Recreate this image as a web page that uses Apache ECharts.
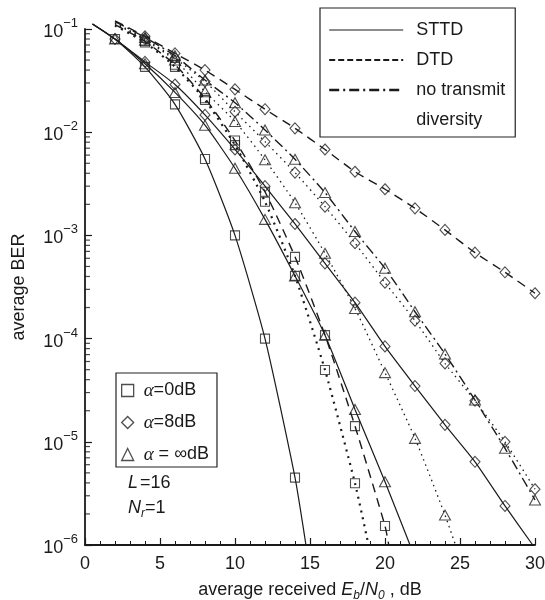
<!DOCTYPE html>
<html><head><meta charset="utf-8">
<script src="https://cdn.jsdelivr.net/npm/echarts@6/dist/echarts.min.js"></script>
<style>html,body{margin:0;padding:0;background:#fff}#c{width:545px;height:600px}</style>
</head><body><div id="c"></div>
<script>
// ---- axes ----
const xTickValues = [0, 5, 10, 15, 20, 25, 30];
const yDecadeExps = [-6, -5, -4, -3, -2, -1];
const yMinorMultipliers = [2, 3, 4, 5, 6, 7, 8, 9];

// ---- alpha = 0 dB (squares) ----
const sttd0LineX = [0.5, 2, 4, 6, 8, 10, 12, 14, 14.73];
const sttd0LineY = [0.112, 0.08, 0.043, 0.0186, 0.0055, 1.0e-3, 1.0e-4, 4.5e-6, 1e-6];
const sttd0MarkX = [2, 4, 6, 8, 10, 12, 14];
const sttd0MarkY = [0.08, 0.043, 0.0186, 0.0055, 1.0e-3, 1.0e-4, 4.5e-6];

const dtd0LineX = [2, 4, 6, 8, 10, 12, 14, 16, 18, 20, 20.25];
const dtd0LineY = [0.11, 0.076, 0.045, 0.0213, 0.0083, 0.00265, 6.2e-4, 1.08e-4, 1.42e-5, 1.53e-6, 1e-6];
const dtd0MarkX = [4, 6, 8, 10, 12, 14, 16, 18, 20];
const dtd0MarkY = [0.076, 0.045, 0.0213, 0.0083, 0.00265, 6.2e-4, 1.08e-4, 1.42e-5, 1.53e-6];

const notd0LineX = [2, 4, 6, 8, 10, 12, 14, 16, 18, 18.9];
const notd0LineY = [0.108, 0.074, 0.043, 0.0205, 0.0075, 0.00212, 4.05e-4, 4.96e-5, 3.96e-6, 1e-6];
const notd0MarkX = [4, 6, 8, 10, 12, 14, 16, 18];
const notd0MarkY = [0.074, 0.043, 0.0205, 0.0075, 0.00212, 4.05e-4, 4.96e-5, 3.96e-6];

// ---- alpha = 8 dB (diamonds) ----
const sttd8LineX = [0.5, 2, 4, 6, 8, 10, 12, 14, 16, 18, 20, 22, 24, 26, 28, 29.85];
const sttd8LineY = [0.112, 0.08, 0.048, 0.029, 0.0147, 0.0068, 0.0030, 1.29e-3, 5.36e-4, 2.23e-4, 8.4e-5, 3.47e-5, 1.46e-5, 6.4e-6, 2.39e-6, 1e-6];
const sttd8MarkX = [2, 4, 6, 8, 10, 12, 14, 16, 18, 20, 22, 24, 26, 28];
const sttd8MarkY = [0.08, 0.048, 0.029, 0.0147, 0.0068, 0.0030, 1.29e-3, 5.36e-4, 2.23e-4, 8.4e-5, 3.47e-5, 1.46e-5, 6.4e-6, 2.39e-6];

const dot8LineX = [2, 4, 6, 8, 10, 12, 14, 16, 18, 20, 22, 24, 26, 28, 30];
const dot8LineY = [0.115, 0.08, 0.052, 0.031, 0.0158, 0.0081, 0.00406, 0.0019, 8.4e-4, 3.48e-4, 1.49e-4, 5.75e-5, 2.5e-5, 1.0e-5, 3.47e-6];
const dot8MarkX = [4, 6, 8, 10, 12, 14, 16, 18, 20, 22, 24, 26, 28, 30];
const dot8MarkY = [0.08, 0.052, 0.031, 0.0158, 0.0081, 0.00406, 0.0019, 8.4e-4, 3.48e-4, 1.49e-4, 5.75e-5, 2.5e-5, 1.0e-5, 3.47e-6];

const dash8LineX = [2, 4, 6, 8, 10, 12, 14, 16, 18, 20, 22, 24, 26, 28, 30];
const dash8LineY = [0.12, 0.085, 0.058, 0.040, 0.026, 0.0167, 0.0109, 0.0068, 0.00414, 0.0028, 0.00183, 0.00113, 6.8e-4, 4.39e-4, 2.75e-4];
const dash8MarkX = [4, 6, 8, 10, 12, 14, 16, 18, 20, 22, 24, 26, 28, 30];
const dash8MarkY = [0.085, 0.058, 0.040, 0.026, 0.0167, 0.0109, 0.0068, 0.00414, 0.0028, 0.00183, 0.00113, 6.8e-4, 4.39e-4, 2.75e-4];

// ---- alpha = infinity dB (triangles) ----
const sttdInfLineX = [0.5, 2, 4, 6, 8, 10, 12, 14, 16, 18, 20, 21.67];
const sttdInfLineY = [0.112, 0.08, 0.046, 0.0243, 0.0117, 0.00447, 1.43e-3, 4.05e-4, 1.08e-4, 2.06e-5, 4.1e-6, 1e-6];
const sttdInfMarkX = [2, 4, 6, 8, 10, 12, 14, 16, 18, 20];
const sttdInfMarkY = [0.08, 0.046, 0.0243, 0.0117, 0.00447, 1.43e-3, 4.05e-4, 1.08e-4, 2.06e-5, 4.1e-6];

const dotInfLineX = [2, 4, 6, 8, 10, 12, 14, 16, 18, 20, 22, 24, 24.7];
const dotInfLineY = [0.113, 0.078, 0.05, 0.0247, 0.0127, 0.0054, 0.00207, 6.7e-4, 1.96e-4, 4.68e-5, 1.08e-5, 1.95e-6, 1e-6];
const dotInfMarkX = [4, 6, 8, 10, 12, 14, 16, 18, 20, 22, 24];
const dotInfMarkY = [0.078, 0.05, 0.0247, 0.0127, 0.0054, 0.00207, 6.7e-4, 1.96e-4, 4.68e-5, 1.08e-5, 1.95e-6];

const ddInfLineX = [2, 4, 6, 8, 10, 12, 14, 16, 18, 20, 22, 24, 26, 28, 30];
const ddInfLineY = [0.118, 0.083, 0.055, 0.032, 0.0193, 0.0105, 0.00546, 0.0026, 1.09e-3, 4.8e-4, 1.82e-4, 7.1e-5, 2.54e-5, 8.65e-6, 2.73e-6];
const ddInfMarkX = [4, 6, 8, 10, 12, 14, 16, 18, 20, 22, 24, 26, 28, 30];
const ddInfMarkY = [0.083, 0.055, 0.032, 0.0193, 0.0105, 0.00546, 0.0026, 1.09e-3, 4.8e-4, 1.82e-4, 7.1e-5, 2.54e-5, 8.65e-6, 2.73e-6];

// ---- legend texts ----
const styleLegendNames = ['STTD', 'DTD', 'no transmit', 'diversity'];
const alphaLegendNames = ['α=0dB', 'α=8dB', 'α = ∞dB'];

const FONT = 'Liberation Sans';
const INK = '#1a1a1a';

function pairs(xs, ys) { return xs.map((x, i) => [x, ys[i]]); }

const SOLID = { color: INK, width: 1.2, type: 'solid' };
const DASHED = { color: INK, width: 1.4, type: [9, 6] };
const DASHDOT = { color: INK, width: 1.4, type: [10, 4, 2, 4] };
const DOTFINE = { color: INK, width: 1.3, type: [1.5, 4] };
const DOTBOLD = { color: INK, width: 2.2, type: [2, 5] };

function lineS(xs, ys, style) {
  return { type: 'line', data: pairs(xs, ys), symbol: 'none', smooth: 0.2, clip: false,
    lineStyle: style, silent: true, z: 2 };
}
function markS(xs, ys, symbol, size) {
  return { type: 'scatter', data: pairs(xs, ys), symbol: symbol, symbolSize: size, clip: false,
    itemStyle: { color: 'rgba(255,255,255,0)', borderColor: '#222', borderWidth: 1.1 }, silent: true, z: 3 };
}

const SQ = 9, DI = [10, 11], TR = [11, 10];

// y-axis minor tick positions (log decades 2..9)
const yMinorTickData = yDecadeExps.slice(0, -1).flatMap(e => yMinorMultipliers.map(m => [0, m * Math.pow(10, e)]));

const series = [
  lineS(sttd0LineX, sttd0LineY, SOLID), markS(sttd0MarkX, sttd0MarkY, 'rect', SQ),
  lineS(dtd0LineX, dtd0LineY, DASHED), markS(dtd0MarkX, dtd0MarkY, 'rect', SQ),
  lineS(notd0LineX, notd0LineY, DOTBOLD), markS(notd0MarkX, notd0MarkY, 'rect', SQ),
  lineS(sttd8LineX, sttd8LineY, SOLID), markS(sttd8MarkX, sttd8MarkY, 'diamond', DI),
  lineS(dot8LineX, dot8LineY, DOTFINE), markS(dot8MarkX, dot8MarkY, 'diamond', DI),
  lineS(dash8LineX, dash8LineY, DASHED), markS(dash8MarkX, dash8MarkY, 'diamond', DI),
  lineS(sttdInfLineX, sttdInfLineY, SOLID), markS(sttdInfMarkX, sttdInfMarkY, 'triangle', TR),
  lineS(dotInfLineX, dotInfLineY, DOTFINE), markS(dotInfMarkX, dotInfMarkY, 'triangle', TR),
  lineS(ddInfLineX, ddInfLineY, DASHDOT), markS(ddInfMarkX, ddInfMarkY, 'triangle', TR),
  // legend-only entries
  { name: 'STTD', type: 'line', data: [], symbol: 'none', lineStyle: { color: INK, width: 1.2 } },
  { name: 'DTD', type: 'line', data: [], symbol: 'none', lineStyle: { color: INK, width: 2, type: [6, 3] } },
  { name: 'no transmit', type: 'line', data: [], symbol: 'none', lineStyle: { color: INK, width: 2.4, type: [10, 4, 2, 4] } },
  { name: 'diversity', type: 'line', data: [], symbol: 'none', lineStyle: { color: 'rgba(0,0,0,0)', width: 0 } },
  { name: alphaLegendNames[0], type: 'scatter', data: [], symbol: 'rect' },
  { name: alphaLegendNames[1], type: 'scatter', data: [], symbol: 'diamond' },
  { name: alphaLegendNames[2], type: 'scatter', data: [], symbol: 'triangle' },
  // y-axis minor (log) ticks, short bars placed by the axis scale
  {
    type: 'scatter', silent: true, clip: false, z: 5, data: yMinorTickData,
    symbol: 'rect', symbolSize: [5, 1.2], symbolOffset: [2.5, 0],
    itemStyle: { color: INK, borderWidth: 0 }
  }
];

const chart = echarts.init(document.getElementById('c'), null, { renderer: 'canvas' });
chart.setOption({
  animation: false,
  backgroundColor: '#fff',
  textStyle: { fontFamily: FONT, color: INK },
  grid: { left: 85, right: 10, top: 29, bottom: 55, containLabel: false, outerBoundsMode: 'none' },
  xAxis: {
    type: 'value', min: xTickValues[0], max: xTickValues[xTickValues.length - 1], interval: 5,
    axisLine: { onZero: false, lineStyle: { color: INK, width: 1.8 } },
    axisTick: { inside: true, length: 7, lineStyle: { color: INK, width: 1.2 } },
    minorTick: { show: true, splitNumber: 5, length: 4, lineStyle: { color: INK, width: 1 } },
    splitLine: { show: false },
    axisLabel: { fontSize: 18, fontFamily: FONT, color: INK, margin: 10 },
    name: '{n|average received }{i|E}{s|b}{n|/}{i|N}{s|0}{n| , dB}',
    nameLocation: 'middle', nameGap: 33,
    nameTextStyle: {
      fontFamily: FONT, color: INK,
      rich: {
        n: { fontSize: 18, fontFamily: FONT, color: INK, lineHeight: 24, verticalAlign: 'middle' },
        i: { fontSize: 18, fontFamily: FONT, fontStyle: 'italic', color: INK, lineHeight: 24, verticalAlign: 'middle' },
        s: { fontSize: 12, fontFamily: FONT, fontStyle: 'italic', color: INK, lineHeight: 24, verticalAlign: 'bottom' }
      }
    }
  },
  yAxis: {
    type: 'log', logBase: 10,
    min: Math.pow(10, yDecadeExps[0]), max: Math.pow(10, yDecadeExps[yDecadeExps.length - 1]),
    axisLine: { lineStyle: { color: INK, width: 1.8 } },
    axisTick: { inside: true, length: 7, lineStyle: { color: INK, width: 1.2 } },
    splitLine: { show: false },
    axisLabel: {
      margin: 7,
      formatter: function (v) {
        const e = Math.round(Math.log10(v));
        return '{b|10}{s|' + (e < 0 ? '\u2212' : '') + Math.abs(e) + '}';
      },
      rich: {
        b: { fontSize: 18, fontFamily: FONT, color: INK, lineHeight: 24, verticalAlign: 'bottom' },
        s: { fontSize: 13, fontFamily: FONT, color: INK, lineHeight: 24, verticalAlign: 'top' }
      }
    },
    name: 'average BER', nameLocation: 'middle', nameGap: 57,
    nameTextStyle: { fontSize: 18, fontFamily: FONT, color: INK }
  },
  legend: [
    {
      orient: 'vertical', left: 320, top: 8, itemWidth: 74, itemHeight: 14, itemGap: 12,
      padding: [13, 10, 8, 8], borderColor: '#222', borderWidth: 1.2, selectedMode: false,
      data: styleLegendNames,
      itemStyle: { color: 'rgba(0,0,0,0)', borderColor: 'rgba(0,0,0,0)', borderWidth: 0 },
      lineStyle: { color: 'inherit', width: 'inherit', type: 'inherit' },
      textStyle: { fontSize: 18, lineHeight: 18, fontFamily: FONT, color: INK, padding: [0, 0, 0, 8] }
    },
    {
      orient: 'vertical', left: 116, top: 373, itemWidth: 12, itemHeight: 12, itemGap: 13,
      padding: [8, 8, 3, 5], borderColor: '#222', borderWidth: 1.2, selectedMode: false,
      data: [
        { name: alphaLegendNames[0], icon: 'rect' },
        { name: alphaLegendNames[1], icon: 'diamond' },
        { name: alphaLegendNames[2], icon: 'triangle' }
      ],
      itemStyle: { color: 'rgba(255,255,255,0)', borderColor: '#222', borderWidth: 1.3 },
      formatter: function (name) { return '{a|α}{t|' + name.slice(1) + '}'; },
      textStyle: {
        fontSize: 18, lineHeight: 18, fontFamily: FONT, color: INK, padding: [0, 0, 0, 5],
        rich: {
          a: { fontSize: 19, lineHeight: 18, fontFamily: 'Liberation Serif', fontStyle: 'italic', color: INK },
          t: { fontSize: 18, lineHeight: 18, fontFamily: FONT, color: INK }
        }
      }
    }
  ],
  graphic: [
    {
      type: 'text', left: 128, top: 474, silent: true,
      style: {
        text: '{i|L}{n|=16}',
        rich: {
          i: { fontSize: 18, fontFamily: FONT, fontStyle: 'italic', fill: INK, lineHeight: 22, padding: [0, 2, 0, 0] },
          n: { fontSize: 18, fontFamily: FONT, fill: INK, lineHeight: 22 }
        }
      }
    },
    {
      type: 'text', left: 128, top: 499, silent: true,
      style: {
        text: '{i|N}{s|r}{n|=1}',
        rich: {
          i: { fontSize: 18, fontFamily: FONT, fontStyle: 'italic', fill: INK, lineHeight: 24, verticalAlign: 'middle' },
          s: { fontSize: 12, fontFamily: FONT, fontStyle: 'italic', fill: INK, lineHeight: 24, verticalAlign: 'bottom' },
          n: { fontSize: 18, fontFamily: FONT, fill: INK, lineHeight: 24, verticalAlign: 'middle' }
        }
      }
    }
  ],
  series: series
});
</script>
</body></html>
